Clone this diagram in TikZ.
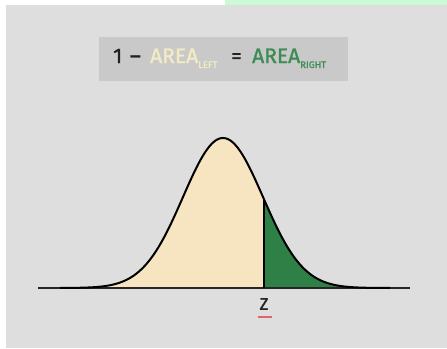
\documentclass[tikz,border=0pt]{standalone}
\usepackage{fontspec}
\setmainfont{Fira Sans}[BoldFont={Fira Sans}, BoldFeatures={FakeBold=1.4}]
\definecolor{panel}{HTML}{DEDEDE}
\definecolor{topgreen}{HTML}{CCFAD4}
\definecolor{boxgrey}{HTML}{C9C9C9}
\definecolor{cream}{HTML}{F3EBC3}
\definecolor{areagreen}{HTML}{3D8C55}
\definecolor{fillcream}{HTML}{F7E4C0}
\definecolor{fillgreen}{HTML}{2E8046}
\definecolor{darktext}{HTML}{222222}
\definecolor{zred}{HTML}{E06565}
\tikzset{
  big/.style={inner sep=0pt, anchor=base west, font=\fontsize{21}{21}\selectfont\bfseries},
  small/.style={inner sep=0pt, anchor=base west, font=\fontsize{9.5}{9.5}\selectfont\bfseries},
  curve/.style={line width=2pt, black, line join=round}
}
\begin{document}
\begin{tikzpicture}[x=1pt,y=-1pt]
\useasboundingbox (0,0) rectangle (447,348);
\fill[white] (0,0) rectangle (447,348);
\fill[topgreen] (225,0) rectangle (447,5);
\fill[panel] (6,5) rectangle (447,348);
% formula box
\fill[boxgrey] (99,37) rectangle (348,81);
\node[big, text=darktext] (one) at (113,63) {1};
\node[big, text=darktext, anchor=base east] (minus) at (141,63) {–};
\node[big, text=cream] (arealeft) at (150,63) {AREA};
\node[small, text=cream] (left) at (198,68) {LEFT};
\node[big, text=darktext, anchor=base] (eq) at (236.5,63) {=};
\node[big, text=areagreen] (arearight) at (252,63) {AREA};
\node[small, text=areagreen] (right) at (300,68) {RIGHT};
% areas
\fill[fillcream] (60,288) -- plot[domain=60:264, samples=120] (\x,{288-150*exp(-0.5*((\x-223)/40)^2)}) -- (264,288) -- cycle;
\fill[fillgreen] (264,288) -- plot[domain=264:390, samples=80] (\x,{288-150*exp(-0.5*((\x-223)/40)^2)}) -- (390,288) -- cycle;
% axis
\draw[line width=2pt, black!85] (38,288) -- (410,288);
% curve
\draw[curve] plot[domain=60:390, samples=220] (\x,{288-150*exp(-0.5*((\x-223)/40)^2)});
\draw[line width=1.6pt, black] (264,288) -- (264,{288-150*exp(-0.5*((264-223)/40)^2)});
% z label
\node[inner sep=0pt, text=darktext, font=\fontsize{17}{17}\selectfont\bfseries] (z) at (264,304) {Z};
\draw[zred, line width=2.5pt] (258,317) -- (272,317);
\end{tikzpicture}
\end{document}
